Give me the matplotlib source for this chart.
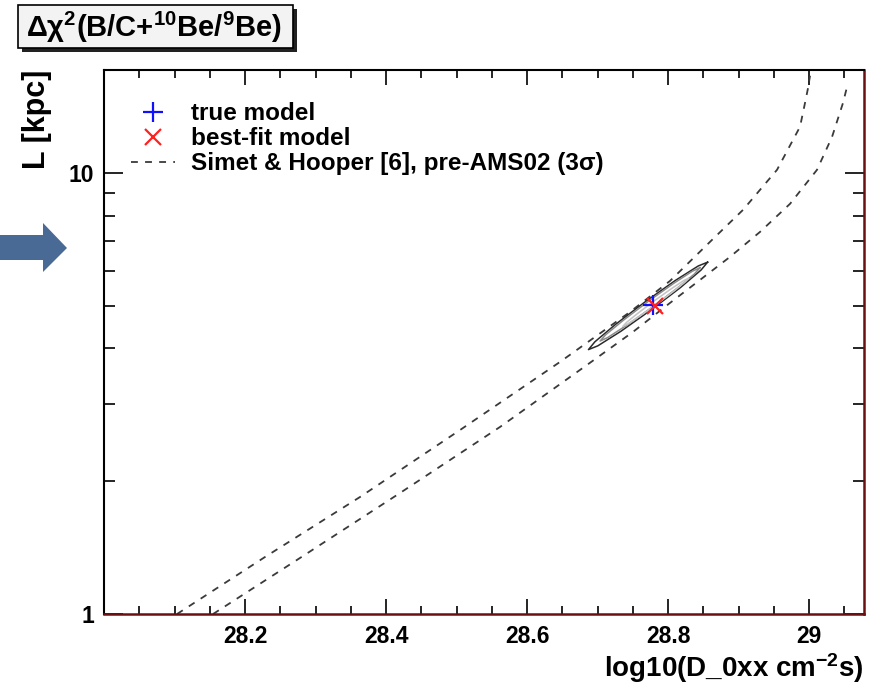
#!/usr/bin/env python3

import matplotlib
matplotlib.use('Agg')
import matplotlib.pyplot as plt
from matplotlib.patches import Polygon, Rectangle
from matplotlib.ticker import FixedLocator, LogLocator, MultipleLocator, NullFormatter, FixedFormatter

plt.rcParams['font.family'] = ['Liberation Sans', 'DejaVu Sans']
plt.rcParams['font.weight'] = 'bold'
plt.rcParams['axes.labelweight'] = 'bold'
plt.rcParams['mathtext.fontset'] = 'custom'
plt.rcParams['mathtext.rm'] = 'Liberation Sans:bold'
plt.rcParams['mathtext.it'] = 'Liberation Sans:bold'
plt.rcParams['mathtext.bf'] = 'Liberation Sans:bold'

# Simet & Hooper pre-AMS02 3 sigma band, two edges
simet_upper_x = [28.1035, 28.2284, 28.3631, 28.5050, 28.6468, 28.7461, 28.8028,
                 28.8624, 28.9064, 28.9546, 28.9872, 28.9943, 28.9986, 29.0014]
simet_upper_L = [1.0, 1.347, 1.842, 2.613, 3.728, 4.839, 5.689,
                 7.048, 8.244, 10.16, 12.72, 14.41, 15.58, 16.6]
simet_lower_x = [28.1546, 28.2780, 28.4199, 28.5617, 28.6851, 28.7503, 28.8028,
                 28.8454, 28.8879, 28.9305, 28.9730, 29.0113, 29.0326, 29.0482, 29.0553]
simet_lower_L = [1.0, 1.340, 1.881, 2.655, 3.670, 4.360, 5.072,
                 5.719, 6.450, 7.348, 8.506, 10.16, 12.06, 14.41, 16.00]

# delta chi2 contours (outer, middle, inner)
cont_outer_x = [28.8561, 28.8469, 28.8176, 28.7759, 28.7330, 28.7004,
                28.6871, 28.6962, 28.7257, 28.7674, 28.8102, 28.8428]
cont_outer_L = [6.274, 6.023, 5.495, 4.890, 4.373, 4.054,
                3.975, 4.140, 4.537, 5.099, 5.701, 6.150]
cont_mid_x = [28.8453, 28.8373, 28.8124, 28.7774, 28.7415, 28.7145,
              28.7036, 28.7116, 28.7365, 28.7715, 28.8074, 28.8344]
cont_mid_L = [6.095, 5.896, 5.468, 4.959, 4.516, 4.234,
              4.157, 4.297, 4.632, 5.108, 5.609, 5.984]
cont_in_x = [28.8287, 28.8233, 28.8069, 28.7839, 28.7605, 28.7429,
             28.7358, 28.7412, 28.7576, 28.7806, 28.8040, 28.8216]
cont_in_L = [5.763, 5.644, 5.375, 5.043, 4.742, 4.544,
             4.487, 4.583, 4.811, 5.129, 5.453, 5.692]

true_model = (28.779, 5.02)
best_fit = (28.781, 4.98)

x_ticks = [28.2, 28.4, 28.6, 28.8, 29.0]
x_tick_labels = ['28.2', '28.4', '28.6', '28.8', '29']
y_ticks = [1, 10]
y_tick_labels = ['1', '10']

fig = plt.figure(figsize=(8.78, 6.84), dpi=100)
ax = fig.add_axes([0.1185, 0.1023, 0.8656, 0.7953])
ax.set_yscale('log')

dash_kw = dict(color='#3a3a3a', lw=1.3, dashes=(3.8, 4.0))
ax.plot(simet_upper_x, simet_upper_L, label='Simet & Hooper [6], pre-AMS02 (3σ)', **dash_kw)
ax.plot(simet_lower_x, simet_lower_L, **dash_kw)

for cx, cy, col in [(cont_outer_x, cont_outer_L, '#2a2a2a'),
                    (cont_mid_x, cont_mid_L, '#8a8a8a'),
                    (cont_in_x, cont_in_L, '#c4c4c4')]:
    ax.plot(cx + cx[:1], cy + cy[:1], color=col, lw=1.1)

ax.plot([true_model[0]], [true_model[1]], '+', color='#1010ff',
        ms=14, mew=1.6, label='true model', ls='none')
ax.plot([best_fit[0]], [best_fit[1]], 'x', color='#ff2020',
        ms=12, mew=1.6, label='best-fit model', ls='none')

ax.set_xlim(28.0, 29.078)
ax.set_ylim(1, 17.1)

ax.xaxis.set_major_locator(FixedLocator(x_ticks))
ax.xaxis.set_major_formatter(FixedFormatter(x_tick_labels))
ax.xaxis.set_minor_locator(MultipleLocator(0.05))
ax.yaxis.set_major_locator(FixedLocator(y_ticks))
ax.yaxis.set_major_formatter(FixedFormatter(y_tick_labels))
ax.yaxis.set_minor_locator(LogLocator(base=10, subs=range(2, 10)))
ax.yaxis.set_minor_formatter(NullFormatter())

ax.tick_params(axis='both', which='both', direction='in', top=True, right=True,
               labelsize=16.5, width=1.2)
ax.tick_params(axis='x', which='major', length=11, pad=8)
ax.tick_params(axis='x', which='minor', length=5.5)
ax.tick_params(axis='y', which='major', length=14, pad=7)
ax.tick_params(axis='y', which='minor', length=8)

for s in ['left', 'top']:
    ax.spines[s].set_linewidth(1.5)
    ax.spines[s].set_color('black')
for s in ['bottom', 'right']:
    ax.spines[s].set_linewidth(1.8)
    ax.spines[s].set_color('#6a1010')

ax.set_xlabel('log10(D_0xx cm$^{-2}$s)', fontsize=20, loc='right', labelpad=2)
ax.set_ylabel('L [kpc]', fontsize=22, loc='top', labelpad=12)

handles, labels = ax.get_legend_handles_labels()
order = [labels.index('true model'), labels.index('best-fit model'),
         labels.index('Simet & Hooper [6], pre-AMS02 (3σ)')]
ax.legend([handles[i] for i in order], [labels[i] for i in order],
          loc='upper left', bbox_to_anchor=(0.036, 0.941), frameon=False,
          fontsize=17.5, handlelength=1.8, handletextpad=0.65, labelspacing=0.08,
          borderpad=0, borderaxespad=0)

# title box with shadow
W, H = 878.0, 684.0
fig.patches.append(Rectangle((22 / W, 1 - 52 / H), 275 / W, 43 / H,
                             transform=fig.transFigure, facecolor='#222222',
                             edgecolor='none', zorder=1))
fig.patches.append(Rectangle((18 / W, 1 - 48 / H), 275 / W, 43 / H,
                             transform=fig.transFigure, facecolor='#f3f3f3',
                             edgecolor='black', lw=1.2, zorder=2))
fig.text(154 / W, 1 - 27 / H, 'Δχ$^{2}$(B/C+$^{10}$Be/$^{9}$Be)', fontsize=21,
         ha='center', va='center', zorder=3)

# blue arrow at the left edge
arrow_px = [(0, 235), (43, 235), (43, 223), (67, 248), (43, 272), (43, 260), (0, 260)]
fig.patches.append(Polygon([(x / W, 1 - y / H) for x, y in arrow_px], closed=True,
                           transform=fig.transFigure, facecolor='#4a6a96',
                           edgecolor='none'))

fig.savefig('out.png', dpi=100)
